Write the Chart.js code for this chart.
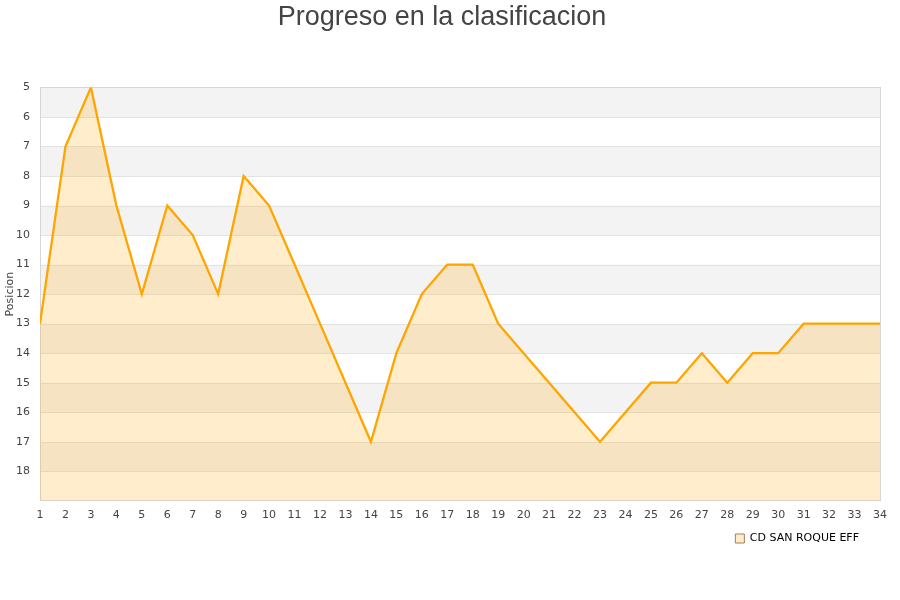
<!DOCTYPE html>
<html>
<head>
<meta charset="utf-8">
<script src="https://cdn.jsdelivr.net/npm/chart.js@4/dist/chart.umd.min.js"></script>
<style>
  html, body { margin: 0; padding: 0; background: #fff; }
  #wrap { width: 900px; height: 600px; }
</style>
</head>
<body>
<div id="wrap"><canvas id="myChart"></canvas></div>
<script>
// jornadas and position per jornada
var jornadas = [1, 2, 3, 4, 5, 6, 7, 8, 9, 10, 11, 12, 13, 14, 15, 16, 17,
                18, 19, 20, 21, 22, 23, 24, 25, 26, 27, 28, 29, 30, 31, 32, 33, 34];
var posiciones = [13, 7, 5, 9, 12, 9, 10, 12, 8, 9, 11, 13, 15, 17, 14, 12, 11,
                  11, 13, 14, 15, 16, 17, 16, 15, 15, 14, 15, 14, 14, 13, 13, 13, 13];
var equipo = 'CD SAN ROQUE EFF';
var posMin = 5;
var posMax = 19;

var puntos = jornadas.map(function (j, i) { return {x: j, y: posiciones[i]}; });

// alternating grey bands behind the data + frame round the plot
var bandas = {
  id: 'bandas',
  afterLayout: function (chart) {
    // legend sits a bit in from the right edge
    if (chart.legend) chart.legend.right -= 18;
  },
  beforeDatasetsDraw: function (chart) {
    var c = chart.ctx, a = chart.chartArea, y = chart.scales.y;
    c.save();
    c.fillStyle = '#f3f3f3';
    for (var v = posMin; v < posMax; v += 2) {
      var t = y.getPixelForValue(v), b = y.getPixelForValue(v + 1);
      c.fillRect(a.left, t, a.right - a.left, b - t);
    }
    c.strokeStyle = '#e3e3e3';
    c.lineWidth = 1;
    for (var g = posMin + 1; g < posMax; g++) {
      var p = Math.round(y.getPixelForValue(g)) + 0.5;
      c.beginPath(); c.moveTo(a.left, p); c.lineTo(a.right, p); c.stroke();
    }
    c.strokeStyle = '#d6d6d6';
    c.strokeRect(Math.round(a.left) + 0.5, Math.round(a.top) + 0.5,
                 Math.round(a.right - a.left), Math.round(a.bottom - a.top));
    c.restore();
  }
};

var ctx = document.getElementById('myChart').getContext('2d');
var myChart = new Chart(ctx, {
  type: 'line',
  data: {
    datasets: [{
      label: equipo,
      data: puntos,
      borderColor: '#ffa500',
      backgroundColor: 'rgba(255,165,0,0.2)',
      borderWidth: 2.3,
      pointRadius: 0,
      tension: 0,
      fill: {value: posMax}
    }]
  },
  options: {
    responsive: true,
    maintainAspectRatio: false,
    animation: false,
    layout: { padding: { left: 4, right: 20, top: 0, bottom: 46 } },
    plugins: {
      title: {
        display: true,
        text: 'Progreso en la clasificacion',
        color: '#444',
        font: { family: 'Liberation Sans', size: 27, weight: 'normal' },
        padding: { top: 1, bottom: 54 }
      },
      legend: {
        position: 'bottom',
        align: 'end',
        labels: {
          color: '#000',
          font: { family: 'DejaVu Sans', size: 11 },
          boxWidth: 9,
          boxHeight: 9,
          padding: 3,
          generateLabels: function (chart) {
            return [{
              text: equipo,
              fillStyle: '#ffeccb',
              strokeStyle: '#a08060',
              lineWidth: 1,
              datasetIndex: 0
            }];
          }
        }
      },
      tooltip: { enabled: false }
    },
    scales: {
      x: {
        type: 'linear',
        min: 1,
        max: 34,
        grid: { display: false, drawTicks: false },
        border: { display: false },
        ticks: {
          stepSize: 1,
          color: '#444',
          font: { family: 'DejaVu Sans', size: 11 },
          maxRotation: 0,
          autoSkip: false,
          padding: 8
        }
      },
      y: {
        reverse: true,
        min: posMin,
        max: posMax,
        grid: { display: false, drawTicks: false },
        border: { display: false },
        title: {
          display: true,
          text: 'Posicion',
          color: '#444',
          font: { family: 'DejaVu Sans', size: 11 },
          padding: 0
        },
        ticks: {
          stepSize: 1,
          color: '#444',
          font: { family: 'DejaVu Sans', size: 11 },
          padding: 10,
          callback: function (v) { return v === posMax ? '' : v; }
        },
        afterFit: function (s) { s.width = 36; }
      }
    }
  },
  plugins: [bandas]
});
</script>
</body>
</html>
